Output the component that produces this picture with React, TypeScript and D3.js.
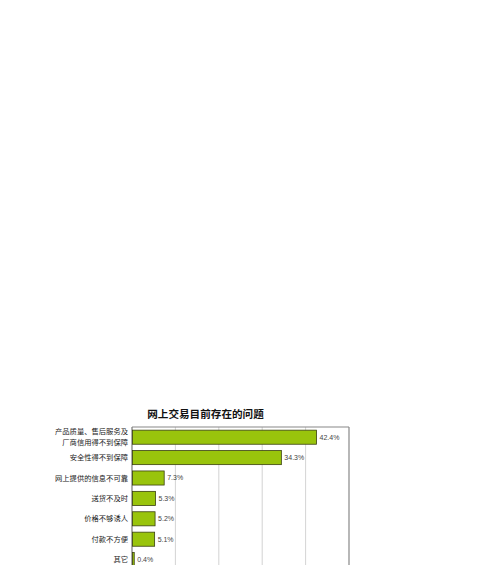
import React, { useEffect, useRef } from 'react'
import * as d3 from 'd3'

const categories = [
  ['产品质量、售后服务及', '厂商信用得不到保障'],
  ['安全性得不到保障'],
  ['网上提供的信息不可靠'],
  ['送货不及时'],
  ['价格不够诱人'],
  ['付款不方便'],
  ['其它'],
]
const values = [42.4, 34.3, 7.3, 5.3, 5.2, 5.1, 0.4]
const gridTicks = [10, 20, 30, 40, 50]
const title = '网上交易目前存在的问题'

const App = () => {
  const svgRef = useRef<SVGSVGElement>(null)

  useEffect(() => {
    const svg = d3.select(svgRef.current)
    svg.selectAll('*').remove()

    const left = 132
    const right = 349
    const top = 427
    const step = 20.4
    const keys = categories.map((c, i) => String(i))

    const x = d3.scaleLinear().domain([0, 50]).range([left, right])
    const y = d3.scaleBand()
      .domain(keys)
      .range([top, top + step * keys.length])
      .paddingInner(0.31)
      .paddingOuter(0.155)

    const font = '"Noto Sans CJK SC", sans-serif'

    svg.append('text')
      .attr('x', 205.5)
      .attr('y', 418)
      .attr('text-anchor', 'middle')
      .attr('font-family', font)
      .attr('font-weight', 'bold')
      .attr('font-size', 10.6)
      .attr('fill', '#111')
      .text(title)

    // grid lines
    svg.selectAll('.grid')
      .data(gridTicks)
      .join('line')
      .attr('class', 'grid')
      .attr('x1', d => x(d))
      .attr('x2', d => x(d))
      .attr('y1', top)
      .attr('y2', 580)
      .attr('stroke', d => (d === 50 ? '#888' : '#c8c8c8'))
      .attr('stroke-width', d => (d === 50 ? 1.2 : 0.8))

    // frame top + left axis
    svg.append('line')
      .attr('x1', left).attr('x2', right)
      .attr('y1', top).attr('y2', top)
      .attr('stroke', '#888').attr('stroke-width', 1.2)
    svg.append('line')
      .attr('x1', left).attr('x2', left)
      .attr('y1', top).attr('y2', 580)
      .attr('stroke', '#777').attr('stroke-width', 1.2)

    const data = values.map((v, i) => ({ key: keys[i], v, label: categories[i] }))

    svg.selectAll('.bar')
      .data(data)
      .join('rect')
      .attr('class', 'bar')
      .attr('x', x(0) + 0.5)
      .attr('y', d => y(d.key)!)
      .attr('width', d => Math.max(x(d.v) - x(0), 1))
      .attr('height', y.bandwidth())
      .attr('fill', '#99c40c')
      .attr('stroke', '#3a4010')
      .attr('stroke-width', 0.8)

    svg.selectAll('.val')
      .data(data)
      .join('text')
      .attr('class', 'val')
      .attr('x', d => x(d.v) + 3.5)
      .attr('y', d => y(d.key)! + y.bandwidth() / 2)
      .attr('dy', '0.35em')
      .attr('font-family', 'Arial, "Liberation Sans", sans-serif')
      .attr('font-size', 7)
      .attr('fill', '#444')
      .text(d => d.v.toFixed(1) + '%')

    const labels = svg.selectAll('.lab')
      .data(data)
      .join('text')
      .attr('class', 'lab')
      .attr('text-anchor', 'end')
      .attr('font-family', font)
      .attr('font-size', 7.3)
      .attr('fill', '#222')

    labels.each(function (d) {
      const t = d3.select(this)
      const cy = y(d.key)! + y.bandwidth() / 2
      const n = d.label.length
      d.label.forEach((line, j) => {
        t.append('tspan')
          .attr('x', 128)
          .attr('y', cy + (j - (n - 1) / 2) * 11)
          .attr('dy', '0.35em')
          .text(line)
      })
    })
  }, [])

  return (
    <svg
      ref={svgRef}
      width={500}
      height={565}
      style={{ position: 'absolute', left: 0, top: 0, background: '#fff' }}
    />
  )
}

export default App
